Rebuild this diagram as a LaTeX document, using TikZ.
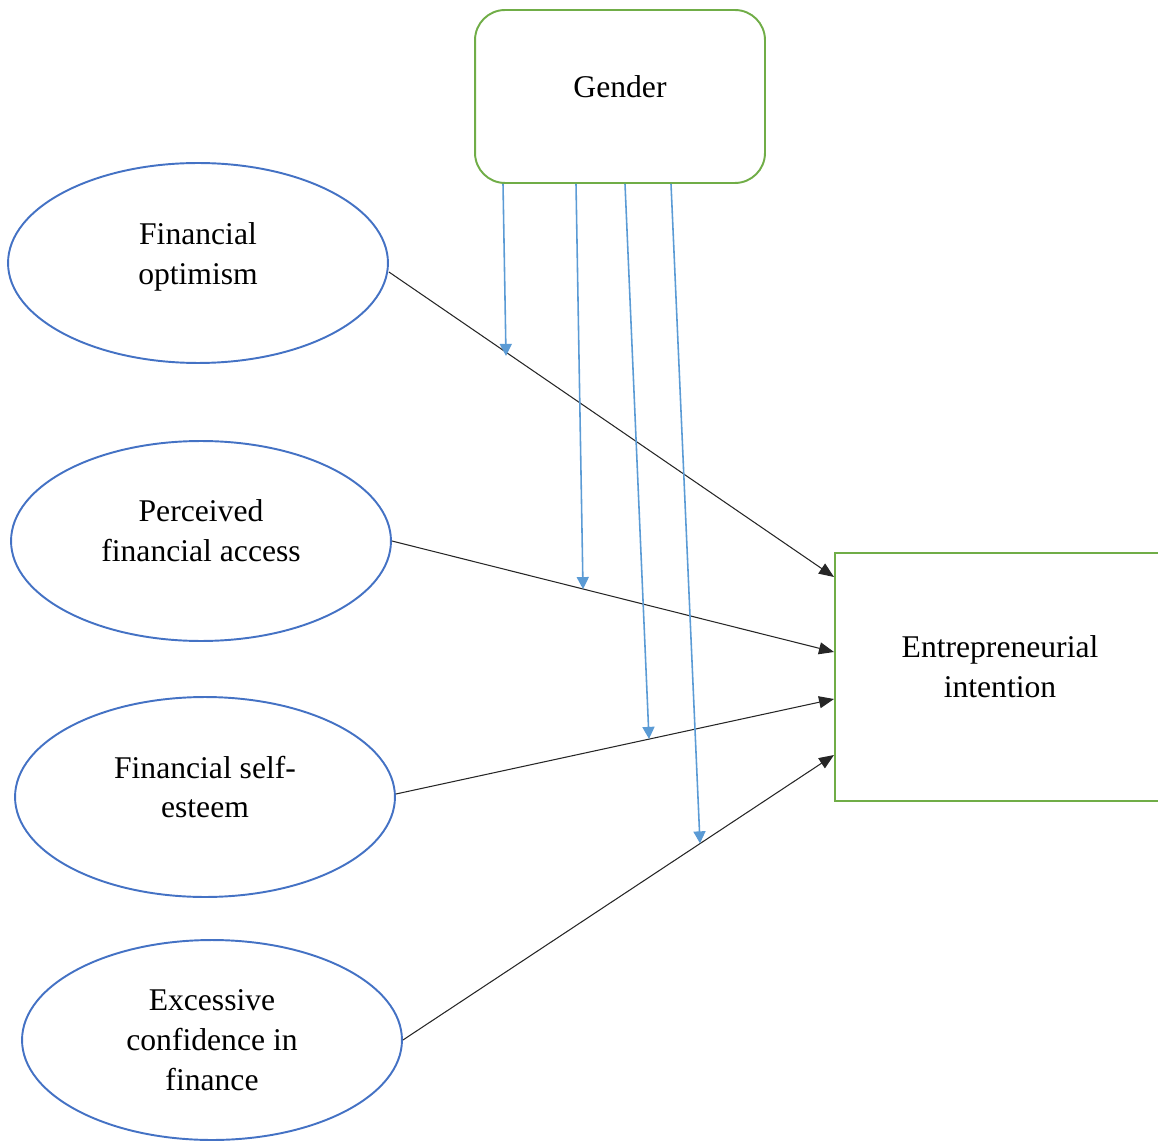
\documentclass[tikz,border=0pt]{standalone}
\usepackage{fontspec}
\setmainfont{Liberation Serif}
\usetikzlibrary{positioning,arrows.meta,shapes.geometric}
\definecolor{OvalBlue}{HTML}{4472C4}
\definecolor{BoxGreen}{HTML}{70AD47}
\definecolor{ModBlue}{HTML}{5B9BD5}
\definecolor{PathGray}{HTML}{262626}

\begin{document}
\begin{tikzpicture}[x=0.02cm,y=-0.02cm,every node/.style={font=\fontsize{18}{22.7}\selectfont,align=center}]
        \useasboundingbox (0,0) rectangle (1158,1141);
        \tikzset{
          construct/.style={draw=OvalBlue,line width=1.1pt,ellipse,minimum width=7.6cm,minimum height=4cm,inner sep=0pt},
          path/.style={PathGray,line width=0.6pt,-{Triangle[length=0.3cm,width=0.24cm]}},
          moderate/.style={ModBlue,line width=0.9pt,-{Triangle[length=0.24cm,width=0.24cm]}}
        }
        \node[construct,label={[yshift=0.12cm]center:{Financial\\optimism}}] (opt) at (198,263) {};
        \node[construct,label={[yshift=0.2cm]center:{Perceived\\financial access}}] (acc) at (201,541) {};
        \node[construct,label={[yshift=0.2cm]center:{Financial self-\\esteem}}] (est) at (205,797) {};
        \node[construct] (exc) at (212,1040) {Excessive\\confidence in\\finance};
        \node[draw=BoxGreen,line width=1.1pt,rounded corners=0.6cm,minimum width=5.8cm,minimum height=3.46cm] (gen) at (620,96.5) {};
        \node at (620,87) {Gender};
        \node[draw=BoxGreen,line width=1.1pt,minimum width=6.8cm,minimum height=4.96cm,anchor=north west] (ent) at (834,552) {};
        \node at (1000,667) {Entrepreneurial\\intention};
        % direct paths
        \draw[path] (opt.east |- 0,272) -- (ent.west |- 0,577) coordinate[pos=0.275] (m1);
        \draw[path] (acc.east) -- (ent.west |- 0,652) coordinate[pos=0.433] (m2);
        \draw[path] (est.east |- 0,794) -- (ent.west |- 0,699) coordinate[pos=0.58] (m3);
        \draw[path] (exc.east) -- (ent.west |- 0,755) coordinate[pos=0.69] (m4);
        % moderation by gender
        \draw[moderate] (gen.south -| 503,0) -- (m1 -| 506,0);
        \draw[moderate] (gen.south -| 576,0) -- (m2 -| 583,0);
        \draw[moderate] (gen.south -| 625,0) -- (m3 -| 649,0);
        \draw[moderate] (gen.south -| 671,0) -- (m4 -| 700,0);
      \end{tikzpicture}
\end{document}
